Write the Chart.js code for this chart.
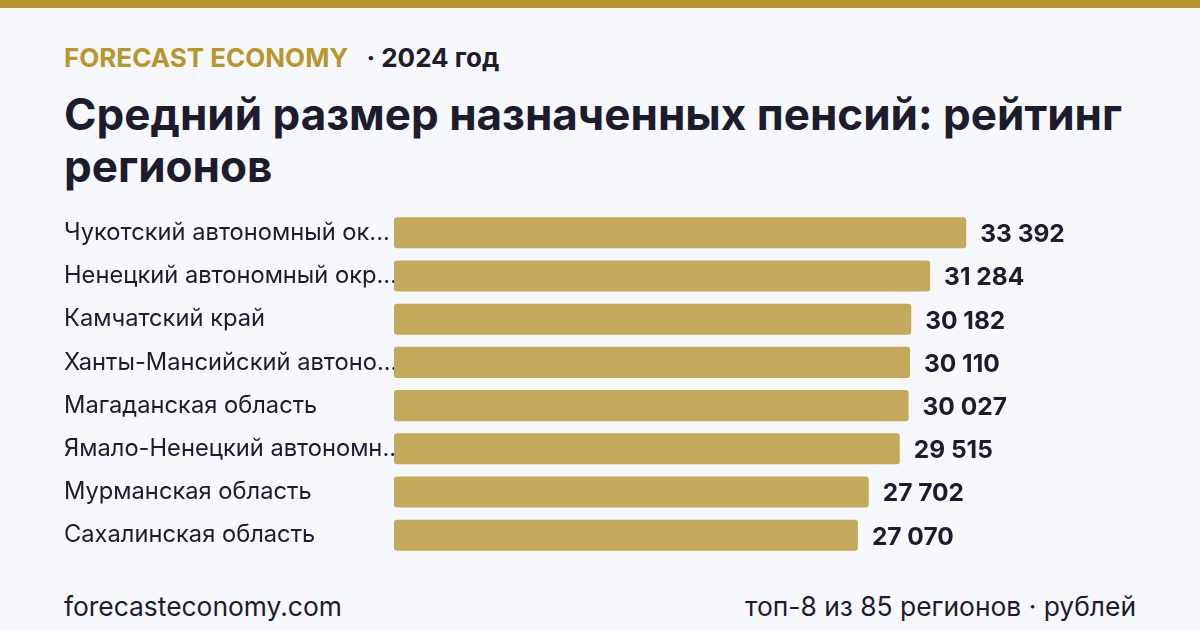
<!DOCTYPE html>
<html lang="ru">
<head>
<meta charset="utf-8">
<script src="https://cdn.jsdelivr.net/npm/chart.js@4"></script>
<style>
  html, body { margin: 0; padding: 0; }
  body {
    width: 1200px; height: 630px; overflow: hidden; position: relative;
    background: #F7F8FC; font-family: Inter, "Noto Sans", sans-serif; color: #1C1C2E;
  }
  .topbar { position: absolute; left: 0; top: 0; width: 1200px; height: 8px; background: #B8962E; }
  .brand { position: absolute; left: 64px; top: 42px; font-size: 26px; font-weight: 700; white-space: nowrap; }
  .brand .gold { color: #B8962E; margin-right: 18px; }
  .title { position: absolute; left: 64px; top: 88px; width: 1080px; font-size: 44px; font-weight: 700; line-height: 52px; }
  .wrap { position: absolute; left: 0; top: 197px; width: 1200px; height: 374px; }
  .foot { position: absolute; top: 590px; font-size: 26.4px; white-space: nowrap; }
  .foot.l { left: 64px; }
  .foot.r { right: 64px; }
</style>
</head>
<body>
<div class="topbar"></div>
<div class="brand"><span class="gold">FORECAST ECONOMY</span>· 2024 год</div>
<div class="title">Средний размер назначенных пенсий: рейтинг регионов</div>
<div class="wrap"><canvas id="grafico"></canvas></div>
<div class="foot l">forecasteconomy.com</div>
<div class="foot r">топ-8 из 85 регионов · рублей</div>

<script>
const regioes = [
    'Чукотский автономный округ',
    'Ненецкий автономный округ',
    'Камчатский край',
    'Ханты-Мансийский автономный округ',
    'Магаданская область',
    'Ямало-Ненецкий автономный округ',
    'Мурманская область',
    'Сахалинская область'
];
const pensoes = [33392, 31284, 30182, 30110, 30027, 29515, 27702, 27070];
const eixoMax = 43300;

const corTexto = '#1C1C2E';
const corBarra = '#C4A85C';

function formatar(v) {
    return String(v).replace(/\B(?=(\d{3})+(?!\d))/g, ' ');
}

function encurtar(txt) {
    return txt.length > 23 ? txt.slice(0, 23) + '...' : txt;
}

// valores à direita das barras
const rotulos = {
    id: 'rotulos',
    afterDatasetsDraw(chart) {
        const ctx = chart.ctx;
        const meta = chart.getDatasetMeta(0);
        ctx.save();
        ctx.font = '700 24.5px Inter';
        ctx.fillStyle = corTexto;
        ctx.textAlign = 'left';
        ctx.textBaseline = 'middle';
        meta.data.forEach((bar, i) => {
            ctx.fillText(formatar(pensoes[i]), bar.x + 14, bar.y + 2);
        });
        ctx.restore();
    }
};

new Chart(document.getElementById('grafico'), {
    type: 'bar',
    data: {
        labels: regioes,
        datasets: [{
            data: pensoes,
            backgroundColor: corBarra,
            borderRadius: 3,
            borderSkipped: false,
            categoryPercentage: 1,
            barPercentage: 0.72
        }]
    },
    options: {
        indexAxis: 'y',
        responsive: true,
        maintainAspectRatio: false,
        animation: false,
        layout: { padding: { left: 64, right: 64, top: 0, bottom: 0 } },
        plugins: {
            legend: { display: false },
            tooltip: { enabled: false }
        },
        scales: {
            x: {
                display: false,
                min: 0,
                max: eixoMax
            },
            y: {
                grid: { display: false },
                border: { display: false },
                afterFit(axis) { axis.width = 330; },
                ticks: {
                    crossAlign: 'far',
                    padding: 0,
                    color: corTexto,
                    font: { family: 'Inter', size: 23.7 },
                    callback(v, i) { return encurtar(regioes[i]); }
                }
            }
        }
    },
    plugins: [rotulos]
});
</script>
</body>
</html>
